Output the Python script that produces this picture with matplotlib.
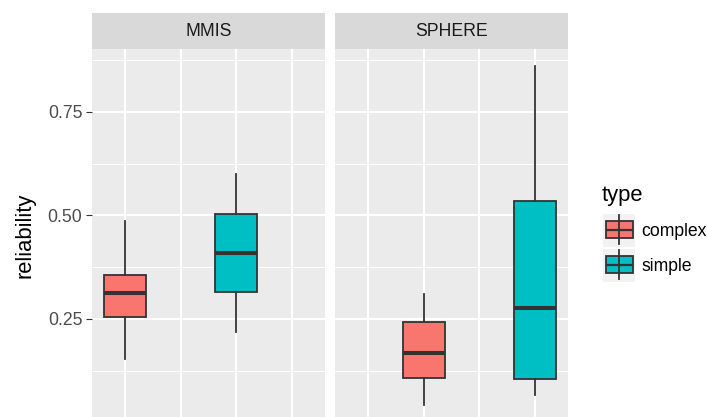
import matplotlib
matplotlib.use("Agg")
import matplotlib.pyplot as plt
from matplotlib.patches import Rectangle

plt.rcParams['font.family'] = ['Liberation Sans', 'DejaVu Sans']

# values (box stats per panel / type)
panels = ["MMIS", "SPHERE"]
types = ["complex", "simple"]
type_colors = ["#F8766D", "#00BFC4"]
# x slot of each box in each panel (4 discrete x levels, shared)
x_slots = {"MMIS": [1, 3], "SPHERE": [2, 4]}

whislo = {"MMIS": [0.153, 0.219], "SPHERE": [0.042, 0.066]}
q1 = {"MMIS": [0.254, 0.314], "SPHERE": [0.107, 0.104]}
med = {"MMIS": [0.312, 0.409], "SPHERE": [0.167, 0.276]}
q3 = {"MMIS": [0.356, 0.504], "SPHERE": [0.242, 0.535]}
whishi = {"MMIS": [0.487, 0.600], "SPHERE": [0.310, 0.861]}

yticks = [0.25, 0.50, 0.75]
yticklabels = ["0.25", "0.50", "0.75"]

W, H = 707, 417
fig = plt.figure(figsize=(W / 100, H / 100), dpi=100)

def px_axes(x0, y0, x1, y1):
    # pixel box (top-left origin) -> figure fraction
    return fig.add_axes([x0 / W, 1 - y1 / H, (x1 - x0) / W, (y1 - y0) / H])

edge = "#333333"
lefts = [92, 335]
for i, p in enumerate(panels):
    ax = px_axes(lefts[i], 49, lefts[i] + 233, 422)
    ax.set_facecolor("#EBEBEB")
    for s in ax.spines.values():
        s.set_visible(False)
    ax.set_xlim(0.4, 4.6)
    ax.set_ylim(0.001, 0.902)
    ax.set_xticks([1, 2, 3, 4])
    ax.tick_params(axis="x", length=0, labelbottom=False)
    ax.set_yticks(yticks)
    ax.set_yticks([0.125, 0.375, 0.625, 0.875], minor=True)
    ax.tick_params(axis="y", which="minor", length=0)
    ax.grid(True, which="major", color="white", lw=1.5)
    ax.grid(True, which="minor", axis="y", color="white", lw=0.75)
    ax.set_axisbelow(True)
    if i == 0:
        ax.set_yticklabels(yticklabels)
        ax.tick_params(axis="y", which="major", length=4, width=0.8,
                       color=edge, labelcolor="#4D4D4D", labelsize=12.7, pad=3)
        ax.set_ylabel("reliability", fontsize=15.8, labelpad=9)
    else:
        ax.tick_params(axis="y", which="major", length=0, labelleft=False)

    stats = []
    for j in range(len(types)):
        stats.append(dict(whislo=whislo[p][j], q1=q1[p][j], med=med[p][j],
                          q3=q3[p][j], whishi=whishi[p][j], fliers=[]))
    bp = ax.bxp(stats, positions=x_slots[p], widths=0.75, patch_artist=True,
                showfliers=False, showcaps=False,
                boxprops=dict(edgecolor=edge, linewidth=1.3),
                whiskerprops=dict(color=edge, linewidth=1.3),
                medianprops=dict(color=edge, linewidth=2.9, solid_capstyle="butt"))
    for box, c in zip(bp["boxes"], type_colors):
        box.set_facecolor(c)

    # facet strip
    sax = px_axes(lefts[i], 13, lefts[i] + 233, 49)
    sax.set_facecolor("#D9D9D9")
    sax.set_xticks([])
    sax.set_yticks([])
    for s in sax.spines.values():
        s.set_visible(False)
    sax.text(0.5, 0.5, p, ha="center", va="center", fontsize=12.7,
             color="#1A1A1A", transform=sax.transAxes)

# legend drawn in pixel coordinates
lax = fig.add_axes([0, 0, 1, 1], facecolor="none")
lax.set_xlim(0, W)
lax.set_ylim(H, 0)
lax.axis("off")
lax.text(602, 201, "type", fontsize=15.8, va="baseline", ha="left")
for k, (t, c) in enumerate(zip(types, type_colors)):
    y0 = 214 + 35 * k
    lax.add_patch(Rectangle((603, y0), 32, 33, facecolor="#F2F2F2", edgecolor="none"))
    lax.plot([619, 619], [y0 + 1, y0 + 30], color=edge, lw=1.3)
    lax.add_patch(Rectangle((606, y0 + 7), 27, 17, facecolor=c, edgecolor=edge, lw=1.3))
    lax.plot([606, 633], [y0 + 15.5, y0 + 15.5], color=edge, lw=1.6, solid_capstyle="butt")
    lax.text(641, y0 + 22, t, fontsize=12.7, va="baseline", ha="left")

fig.savefig("out.png", dpi=100)
